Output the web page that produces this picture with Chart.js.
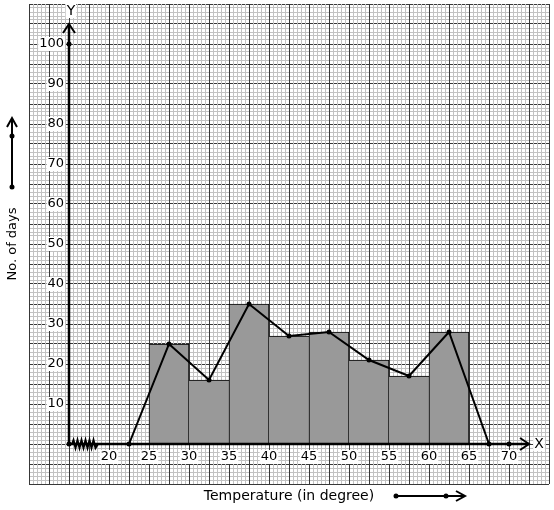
<!DOCTYPE html>
<html>
<head>
<meta charset="utf-8">
<script src="https://cdn.jsdelivr.net/npm/chart.js@4.4.1/dist/chart.umd.min.js"></script>
<style>
  html, body { margin: 0; padding: 0; background: #fff; }
  #wrap { width: 554px; height: 510px; }
</style>
</head>
<body>
<div id="wrap"><canvas id="myChart" width="554" height="510"></canvas></div>
<script>
// class intervals 25-30 ... 60-65, plotted at their mid values
var classMids = [27.5, 32.5, 37.5, 42.5, 47.5, 52.5, 57.5, 62.5];
var days = [25, 16, 35, 27, 28, 21, 17, 28];
// frequency polygon (closed on the empty classes either side)
var polyX = [22.5, 27.5, 32.5, 37.5, 42.5, 47.5, 52.5, 57.5, 62.5, 67.5];
var polyY = [0, 25, 16, 35, 27, 28, 21, 17, 28, 0];
var xTicks = [20, 25, 30, 35, 40, 45, 50, 55, 60, 65, 70];
var yTicks = [10, 20, 30, 40, 50, 60, 70, 80, 90, 100];
var xOrigin = 15;

var FONT = "DejaVu Sans";
var minorColor = "#c2c2c2";
var majorColor = "#383838";

function gridScale(axis, min, max, step, color, z) {
  return {
    type: "linear",
    axis: axis,
    display: true,
    offset: false,
    min: min,
    max: max,
    position: axis === "x" ? "bottom" : "left",
    ticks: { display: false, stepSize: step, maxTicksLimit: 1000 },
    border: { display: false },
    grid: { display: !!color, offset: false, color: color || "#000", lineWidth: 1, drawTicks: false, z: z },
  };
}

// bar borders: each divider drawn once, by the taller neighbour
function barBorder(c) {
  var i = c.dataIndex, n = days.length;
  return {
    top: 1,
    bottom: 0,
    left: i === 0 || days[i] >= days[i - 1] ? 1 : 0,
    right: i === n - 1 || days[i] > days[i + 1] ? 1 : 0,
  };
}

function labelBox(ctx, text, x, y, align) {
  var w = ctx.measureText(text).width;
  var left = align === "right" ? x - w : x - w / 2;
  ctx.fillStyle = "#fff";
  ctx.fillRect(left - 1, y - 7, w + 2, 14);
  ctx.fillStyle = "#000";
  ctx.textAlign = align;
  ctx.textBaseline = "middle";
  ctx.fillText(text, x, y);
}

function dot(ctx, x, y) {
  ctx.beginPath();
  ctx.arc(x, y, 2.5, 0, Math.PI * 2);
  ctx.fill();
}

var decor = {
  id: "decor",
  afterDatasetsDraw: function (chart) {
    var ctx = chart.ctx, xs = chart.scales.x, ys = chart.scales.y;
    var ox = xs.getPixelForValue(xOrigin), oy = ys.getPixelForValue(0);
    var yTop = ys.getPixelForValue(105), xEnd = xs.getPixelForValue(72.5);
    ctx.save();
    ctx.strokeStyle = "#000";
    ctx.fillStyle = "#000";
    ctx.lineWidth = 2.5;
    ctx.lineCap = "butt";
    // axes
    ctx.beginPath();
    ctx.moveTo(ox, oy);
    ctx.lineTo(ox, yTop);
    ctx.moveTo(ox, oy);
    ctx.lineTo(xEnd, oy);
    ctx.stroke();
    ctx.lineWidth = 2;
    ctx.beginPath();
    ctx.moveTo(ox - 6, yTop + 9);
    ctx.lineTo(ox, yTop);
    ctx.lineTo(ox + 6, yTop + 9);
    ctx.moveTo(xEnd - 9, oy - 6);
    ctx.lineTo(xEnd, oy);
    ctx.lineTo(xEnd - 9, oy + 6);
    ctx.stroke();
    // axis break
    ctx.lineWidth = 2;
    ctx.beginPath();
    var zx = ox + 3;
    ctx.moveTo(zx, oy);
    for (var k = 0; k < 12; k++) {
      ctx.lineTo(zx + 1.5 + k * 2, oy + (k % 2 ? 4 : -4));
    }
    ctx.lineTo(zx + 26, oy);
    ctx.stroke();
    dot(ctx, ox, oy);
    dot(ctx, ox, ys.getPixelForValue(100));
    dot(ctx, xs.getPixelForValue(70), oy);

    ctx.font = "13px '" + FONT + "'";
    yTicks.forEach(function (v) {
      labelBox(ctx, String(v), ox - 5, ys.getPixelForValue(v), "right");
    });
    xTicks.forEach(function (v) {
      labelBox(ctx, String(v), xs.getPixelForValue(v), oy + 13, "center");
    });
    ctx.font = "14px '" + FONT + "'";
    labelBox(ctx, "Y", ox + 2, 11, "center");
    labelBox(ctx, "X", xEnd + 10, oy, "center");

    // axis titles with their direction arrows
    ctx.fillStyle = "#000";
    ctx.textAlign = "center";
    ctx.textBaseline = "middle";
    ctx.font = "14px '" + FONT + "'";
    ctx.fillText("Temperature (in degree)", 289, 496);
    ctx.save();
    ctx.translate(13, 244);
    ctx.rotate(-Math.PI / 2);
    ctx.font = "13px '" + FONT + "'";
    ctx.fillText("No. of days", 0, 0);
    ctx.restore();

    ctx.lineWidth = 2;
    ctx.beginPath();
    ctx.moveTo(12, 187);
    ctx.lineTo(12, 118);
    ctx.moveTo(7, 127);
    ctx.lineTo(12, 118);
    ctx.lineTo(17, 127);
    ctx.moveTo(396, 496);
    ctx.lineTo(465, 496);
    ctx.moveTo(456, 491);
    ctx.lineTo(465, 496);
    ctx.lineTo(456, 501);
    ctx.stroke();
    dot(ctx, 12, 187);
    dot(ctx, 12, 136);
    dot(ctx, 396, 496);
    dot(ctx, 446, 496);
    ctx.restore();
  },
};

new Chart(document.getElementById("myChart"), {
  data: {
    datasets: [
      {
        type: "line",
        order: 0,
        data: polyX.map(function (x, i) { return { x: x, y: polyY[i] }; }),
        borderColor: "#000",
        borderWidth: 2,
        pointRadius: 2.5,
        pointBackgroundColor: "#000",
        pointBorderColor: "#000",
        pointBorderWidth: 0,
        tension: 0,
        xAxisID: "x",
        yAxisID: "y",
      },
      {
        type: "bar",
        order: 1,
        data: classMids.map(function (x, i) { return { x: x, y: days[i] }; }),
        backgroundColor: "#999999",
        borderColor: "#000",
        borderWidth: barBorder,
        borderSkipped: false,
        barPercentage: 1,
        categoryPercentage: 1,
        grouped: false,
        xAxisID: "xBar",
        yAxisID: "y",
      },
    ],
  },
  options: {
    responsive: false,
    animation: false,
    devicePixelRatio: 1,
    layout: { padding: { left: 29, top: 4, right: 5, bottom: 26 } },
    plugins: { legend: { display: false }, tooltip: { enabled: false } },
    scales: {
      y: gridScale("y", -10, 110, 1, minorColor, -5),
      y2: gridScale("y", -10, 110, 5, majorColor, -4),
      x: gridScale("x", 10, 75, 0.5, minorColor, -3),
      x2: gridScale("x", 10, 75, 2.5, majorColor, -2),
      xBar: gridScale("x", 10, 75, 5, null, -1),
    },
  },
  plugins: [decor],
});
</script>
</body>
</html>
